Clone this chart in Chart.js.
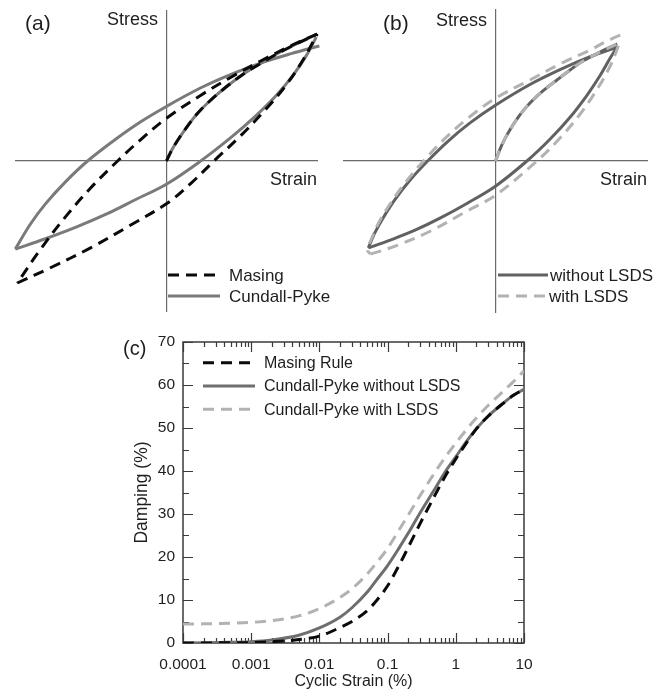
<!DOCTYPE html>
<html>
<head>
<meta charset="utf-8">
<script src="https://cdn.jsdelivr.net/npm/chart.js@4.4.1/dist/chart.umd.min.js"></script>
<style>
  html, body { margin: 0; padding: 0; background: #fff; }
  #figure { position: relative; width: 663px; height: 691px; overflow: hidden; background: #fff; }
  canvas { position: absolute; }
  #chart-a { left: 0; top: 0; }
  #chart-b { left: 330px; top: 0; }
  #chart-c { left: 0; top: 320px; }
</style>
</head>
<body>
<div id="figure">
  <canvas id="chart-a" width="330" height="320"></canvas>
  <canvas id="chart-b" width="333" height="320"></canvas>
  <canvas id="chart-c" width="663" height="371"></canvas>
</div>
<script>
const FONT = '"Liberation Sans", Arial, Helvetica, sans-serif';
const INK = '#1e1e1e';

// (a) hysteresis loops, strain / stress normalised to the loop amplitude
const backboneA = [[0, 0], [0.035, 0.073], [0.075, 0.139], [0.134, 0.225], [0.207, 0.318], [0.293, 0.404],
  [0.393, 0.490], [0.499, 0.570], [0.604, 0.636], [0.777, 0.735], [0.995, 0.841]];
const masingUnloadA = [[0.995, 0.841], [0.823, 0.764], [0.625, 0.664], [0.426, 0.555], [0.227, 0.436], [0.002, 0.285],
  [-0.170, 0.142], [-0.323, 0], [-0.501, -0.179], [-0.667, -0.370], [-0.832, -0.585], [-0.985, -0.808]];
const masingReloadA = [[-0.985, -0.808], [-0.766, -0.707], [-0.501, -0.575], [-0.236, -0.424], [0.009, -0.277],
  [0.161, -0.148], [0.313, 0], [0.492, 0.170], [0.657, 0.344], [0.790, 0.503], [0.903, 0.672], [0.995, 0.841]];
const cundallUnloadA = [[1.009, 0.762], [0.823, 0.711], [0.625, 0.650], [0.426, 0.574], [0.227, 0.485], [0.002, 0.363],
  [-0.170, 0.260], [-0.336, 0.144], [-0.521, 0], [-0.667, -0.138], [-0.799, -0.284], [-0.899, -0.419], [-0.998, -0.583]];
const cundallReloadA = [[-0.998, -0.583], [-0.799, -0.515], [-0.601, -0.440], [-0.402, -0.354], [-0.203, -0.255],
  [0.002, -0.152], [0.227, 0.001], [0.426, 0.156], [0.591, 0.301], [0.724, 0.434], [0.836, 0.569], [0.923, 0.698], [0.989, 0.821]];

// (b) Cundall-Pyke loops with and without LSDS
const backboneB = [[0, 0], [0.041, 0.105], [0.094, 0.204], [0.160, 0.303], [0.226, 0.382], [0.311, 0.461],
  [0.403, 0.533], [0.489, 0.599], [0.574, 0.658], [0.686, 0.717], [0.798, 0.770]];
const plainUnloadB = [[0.798, 0.750], [0.620, 0.686], [0.423, 0.601], [0.226, 0.503], [0.002, 0.368], [-0.169, 0.249],
  [-0.314, 0.128], [-0.445, 0], [-0.564, -0.130], [-0.663, -0.259], [-0.741, -0.381], [-0.794, -0.478], [-0.834, -0.572]];
const plainReloadB = [[-0.834, -0.572], [-0.695, -0.522], [-0.531, -0.457], [-0.367, -0.378], [-0.182, -0.276],
  [0.002, -0.164], [0.206, 0], [0.357, 0.143], [0.489, 0.288], [0.601, 0.434], [0.686, 0.562], [0.752, 0.677], [0.798, 0.750]];
const lsdsUnloadB = [[0.818, 0.829], [0.719, 0.783], [0.620, 0.730], [0.423, 0.638], [0.226, 0.533], [0.002, 0.414],
  [-0.169, 0.291], [-0.327, 0.153], [-0.472, 0], [-0.597, -0.150], [-0.695, -0.288], [-0.768, -0.411], [-0.814, -0.513],
  [-0.840, -0.586], [-0.820, -0.612]];
const lsdsReloadB = [[-0.820, -0.612], [-0.761, -0.595], [-0.630, -0.549], [-0.432, -0.464], [-0.202, -0.338],
  [0.002, -0.224], [0.272, 0], [0.423, 0.151], [0.555, 0.309], [0.666, 0.471], [0.752, 0.625], [0.818, 0.789]];

// (c) damping curves
const cyclicStrain = [0.0001, 0.0002, 0.0005, 0.001, 0.002, 0.005, 0.01, 0.02, 0.03, 0.05, 0.07, 0.1,
  0.15, 0.2, 0.3, 0.5, 0.7, 1, 1.5, 2, 3, 5, 7, 10];
const dampingMasing = [0, 0.02, 0.05, 0.1, 0.3, 0.8, 1.6, 3.6, 5.0, 7.5, 10.0, 13.3,
  18.3, 22.2, 27.8, 34.5, 38.8, 42.8, 47.0, 49.8, 52.8, 55.8, 57.6, 59.0];
const dampingCundall = [0, 0.05, 0.15, 0.3, 0.7, 1.8, 3.5, 6.0, 8.2, 11.8, 14.8, 18.0,
  22.3, 25.5, 30.3, 36.0, 39.8, 43.3, 47.3, 49.8, 52.8, 55.8, 57.6, 59.0];
const dampingCundallLsds = [4.4, 4.45, 4.6, 4.8, 5.2, 6.3, 8.0, 10.6, 12.6, 16.0, 18.8, 22.0,
  26.5, 29.7, 34.3, 39.8, 43.2, 46.5, 50.0, 52.3, 55.3, 58.6, 60.8, 63.3];
const strainTicks = [0.0001, 0.001, 0.01, 0.1, 1, 10];
const strainTickLabels = ['0.0001', '0.001', '0.01', '0.1', '1', '10'];
const dampingTicks = [0, 10, 20, 30, 40, 50, 60, 70];

const BLACK = '#0a0a0a';
const GRAY_A = '#7a7a7a';
const DARK_B = '#616161';
const LIGHT = '#b2b2b2';
const DASH = [11, 7];

const pts = arr => arr.map(([x, y]) => ({ x, y }));

function curve(points, color, dash, width) {
  return {
    data: points, showLine: true, borderColor: color, borderWidth: width || 3,
    borderDash: dash || [], pointRadius: 0, tension: 0.35, fill: false, clip: false
  };
}

// only the zero line of each loop axis is drawn
function loopAxis() {
  return {
    min: -1, max: 1,
    ticks: { display: false, stepSize: 1 },
    grid: {
      drawTicks: false, lineWidth: 1.2,
      color: c => (c.tick && c.tick.value === 0) ? '#6a6a6a' : 'rgba(0,0,0,0)'
    },
    border: { display: false },
    afterFit: s => { if (s.isHorizontal()) s.height = 0; else s.width = 0; }
  };
}

// labels + little legend drawn straight on the canvas
function annotations(labels, legend) {
  return {
    id: 'annotations',
    afterDraw(chart) {
      const ctx = chart.ctx;
      ctx.save();
      ctx.fillStyle = INK;
      ctx.textBaseline = 'middle';
      labels.forEach(t => {
        ctx.font = t.size + 'px ' + FONT;
        ctx.textAlign = t.align || 'left';
        ctx.fillText(t.text, t.x, t.y);
      });
      legend.forEach(it => {
        ctx.strokeStyle = it.color;
        ctx.lineWidth = it.width || 3;
        ctx.setLineDash(it.dash || []);
        ctx.beginPath();
        ctx.moveTo(it.x0, it.y);
        ctx.lineTo(it.x1, it.y);
        ctx.stroke();
        ctx.setLineDash([]);
        ctx.font = it.size + 'px ' + FONT;
        ctx.textAlign = 'left';
        ctx.fillText(it.text, it.tx, it.y + 1);
      });
      ctx.restore();
    }
  };
}

const baseOptions = padding => ({
  responsive: false,
  animation: false,
  layout: { padding },
  plugins: { legend: { display: false }, tooltip: { enabled: false } },
  scales: { x: loopAxis(), y: loopAxis() }
});

new Chart(document.getElementById('chart-a'), {
  type: 'scatter',
  data: {
    datasets: [
      curve(pts(backboneA), BLACK, DASH),
      curve(pts(masingUnloadA), BLACK, DASH),
      curve(pts(masingReloadA), BLACK, DASH),
      curve(pts(backboneA), GRAY_A),
      curve(pts(cundallUnloadA), GRAY_A),
      curve(pts(cundallReloadA), GRAY_A)
    ]
  },
  options: baseOptions({ left: 15, right: 12, top: 10, bottom: 8 }),
  plugins: [annotations(
    [
      { text: '(a)', x: 25, y: 24, size: 21 },
      { text: 'Stress', x: 158, y: 20, size: 18, align: 'right' },
      { text: 'Strain', x: 317, y: 180, size: 18, align: 'right' }
    ],
    [
      { text: 'Masing', x0: 168, x1: 220, y: 275, tx: 229, size: 17, color: BLACK, dash: DASH },
      { text: 'Cundall-Pyke', x0: 168, x1: 220, y: 296, tx: 229, size: 17, color: GRAY_A }
    ]
  )]
});

new Chart(document.getElementById('chart-b'), {
  type: 'scatter',
  data: {
    datasets: [
      curve(pts(backboneB), LIGHT, DASH),
      curve(pts(lsdsUnloadB), LIGHT, DASH),
      curve(pts(lsdsReloadB), LIGHT, DASH),
      curve(pts(backboneB), DARK_B),
      curve(pts(plainUnloadB), DARK_B),
      curve(pts(plainReloadB), DARK_B)
    ]
  },
  options: baseOptions({ left: 13, right: 15, top: 9, bottom: 7 }),
  plugins: [annotations(
    [
      { text: '(b)', x: 53, y: 24, size: 21 },
      { text: 'Stress', x: 157, y: 21, size: 18, align: 'right' },
      { text: 'Strain', x: 317, y: 180, size: 18, align: 'right' }
    ],
    [
      { text: 'without LSDS', x0: 168, x1: 218, y: 275, tx: 220, size: 17, color: DARK_B },
      { text: 'with LSDS', x0: 168, x1: 216, y: 296, tx: 219, size: 17, color: LIGHT, dash: DASH }
    ]
  )]
});

// box frame with inward major/minor ticks on all four sides
const frameTicks = {
  id: 'frameTicks',
  beforeDatasetsDraw(chart) {
    const { ctx, chartArea: a, scales: { x, y } } = chart;
    ctx.save();
    ctx.strokeStyle = '#3a3a3a';
    ctx.lineWidth = 1.5;
    ctx.strokeRect(a.left, a.top, a.right - a.left, a.bottom - a.top);
    ctx.lineWidth = 1.2;
    ctx.beginPath();
    strainTicks.forEach(decade => {
      for (let m = 1; m <= 9; m++) {
        const v = decade * m;
        if (v > x.max * 1.0001) break;
        const px = Math.round(x.getPixelForValue(v)) + 0.5;
        const len = m === 1 ? 10 : 5;
        ctx.moveTo(px, a.bottom); ctx.lineTo(px, a.bottom - len);
        ctx.moveTo(px, a.top); ctx.lineTo(px, a.top + len);
      }
    });
    dampingTicks.forEach((v, i) => {
      const marks = [[v, 10]];
      if (i < dampingTicks.length - 1) marks.push([(v + dampingTicks[i + 1]) / 2, 6]);
      marks.forEach(([val, len]) => {
        const py = Math.round(y.getPixelForValue(val)) + 0.5;
        ctx.moveTo(a.left, py); ctx.lineTo(a.left + len, py);
        ctx.moveTo(a.right, py); ctx.lineTo(a.right - len, py);
      });
    });
    ctx.stroke();
    ctx.restore();
  }
};

const dampingSeries = (values, color, dash) => ({
  data: values.map((v, i) => ({ x: cyclicStrain[i], y: v })),
  showLine: true, borderColor: color, borderWidth: 3, borderDash: dash || [],
  pointRadius: 0, cubicInterpolationMode: 'monotone', fill: false
});

new Chart(document.getElementById('chart-c'), {
  type: 'scatter',
  data: {
    datasets: [
      dampingSeries(dampingMasing, BLACK, DASH),
      dampingSeries(dampingCundall, '#6e6e6e'),
      dampingSeries(dampingCundallLsds, LIGHT, DASH)
    ]
  },
  options: {
    responsive: false,
    animation: false,
    layout: { padding: { left: 132, right: 139, top: 22, bottom: 0 } },
    plugins: { legend: { display: false }, tooltip: { enabled: false } },
    scales: {
      x: {
        type: 'logarithmic', min: 0.0001, max: 10,
        afterBuildTicks: s => { s.ticks = strainTicks.map(v => ({ value: v })); },
        afterFit: s => { s.height = 48; },
        grid: { display: false, drawTicks: false },
        border: { display: false },
        ticks: {
          callback: (v, i) => strainTickLabels[i],
          color: INK, padding: 12, maxRotation: 0, autoSkip: false,
          font: { family: FONT, size: 15.5 }
        },
        title: { display: true, text: 'Cyclic Strain (%)', color: INK, padding: 0, font: { family: FONT, size: 16 } }
      },
      y: {
        min: 0, max: 70,
        afterBuildTicks: s => { s.ticks = dampingTicks.map(v => ({ value: v })); },
        afterFit: s => { s.width = 51; },
        grid: { display: false, drawTicks: false },
        border: { display: false },
        ticks: { color: INK, padding: 8, font: { family: FONT, size: 15.5 } },
        title: { display: true, text: 'Damping (%)', color: INK, padding: 0, font: { family: FONT, size: 17.5 } }
      }
    }
  },
  plugins: [frameTicks, annotations(
    [{ text: '(c)', x: 123, y: 29, size: 20 }],
    [
      { text: 'Masing Rule', x0: 203, x1: 255, y: 42.7, tx: 264, size: 16, color: BLACK, dash: DASH },
      { text: 'Cundall-Pyke without LSDS', x0: 203, x1: 255, y: 66, tx: 264, size: 16, color: '#6e6e6e' },
      { text: 'Cundall-Pyke with LSDS', x0: 203, x1: 255, y: 89.3, tx: 264, size: 16, color: LIGHT, dash: DASH }
    ]
  )]
});
</script>
</body>
</html>
